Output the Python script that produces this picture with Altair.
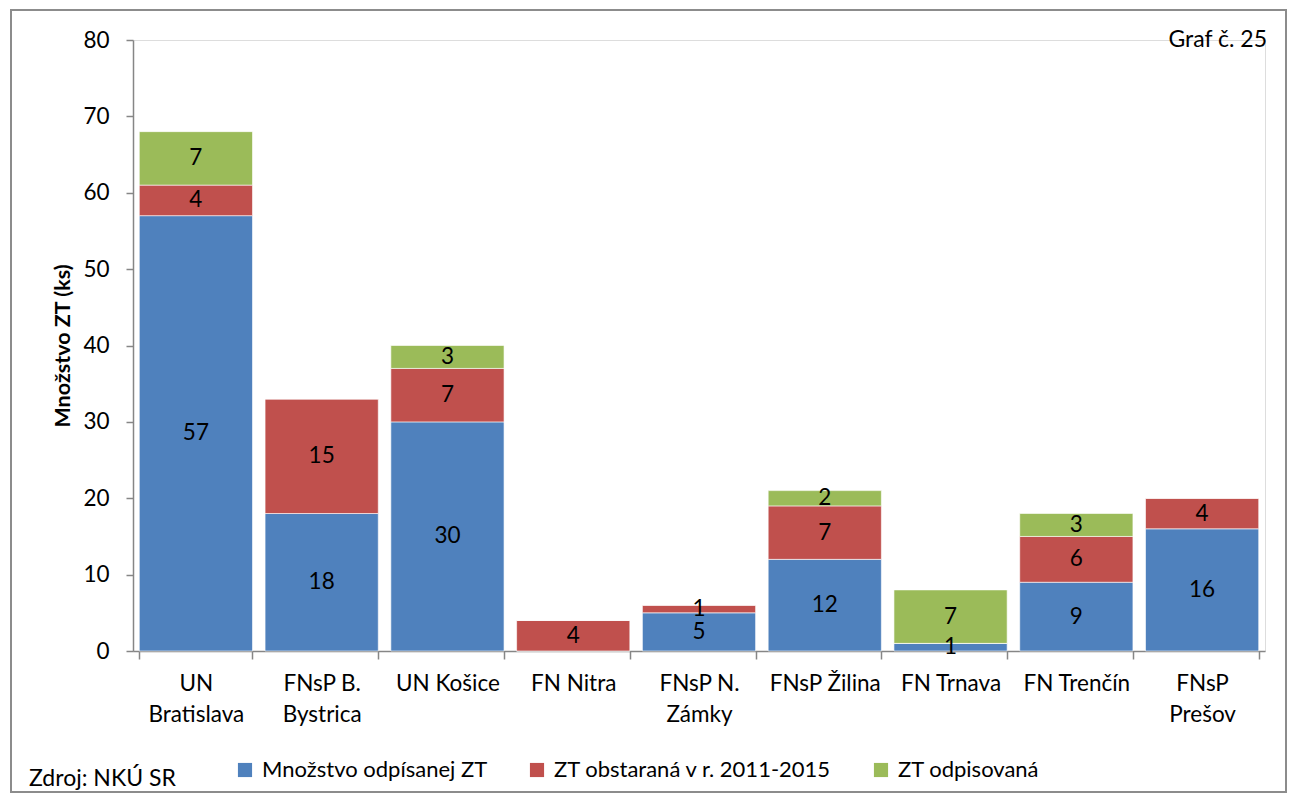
import altair as alt
import pandas as pd

categories = ["UN|Bratislava", "FNsP B.|Bystrica", "UN Košice", "FN Nitra", "FNsP N.|Zámky",
              "FNsP Žilina", "FN Trnava", "FN Trenčín", "FNsP|Prešov"]
series = ["Množstvo odpísanej ZT", "ZT obstaraná v r. 2011-2015", "ZT odpisovaná"]
odpisana = [57, 18, 30, 0, 5, 12, 1, 9, 16]
obstarana = [4, 15, 7, 4, 1, 7, 0, 6, 4]
odpisovana = [7, 0, 3, 0, 0, 2, 7, 3, 0]
colors = ["#4F81BD", "#C0504D", "#9BBB59"]
y_ticks = [0, 10, 20, 30, 40, 50, 60, 70, 80]

FONT = "Lato"
FS = 22.5

rows = []
for i, c in enumerate(categories):
    for j, (s, vals) in enumerate(zip(series, [odpisana, obstarana, odpisovana])):
        rows.append({"cat": c, "series": s, "idx": j, "value": vals[i]})
df = pd.DataFrame(rows)

W, H = 1132, 611

base = alt.Chart(df).transform_stack(
    stack="value", groupby=["cat"], as_=["v0", "v1"],
    sort=[alt.SortField("idx", order="ascending")]
).transform_calculate(mid="(datum.v0 + datum.v1) / 2")

x = alt.X("cat:N", sort=categories, title=None,
          scale=alt.Scale(paddingInner=0.1, paddingOuter=0.05),
          axis=alt.Axis(labelExpr="split(datum.label, '|')", labelAngle=0,
                        tickBand="extent", tickSize=8, tickColor="#868686",
                        domainColor="#868686", domainWidth=1.5, tickWidth=1.5,
                        labelFont=FONT, labelFontSize=FS, labelColor="#000000",
                        labelPadding=13, labelLineHeight=31, labelBaseline="top"))

y_scale = alt.Scale(domain=[0, 80], nice=False)

bars = base.mark_bar(stroke="#ffffff", strokeWidth=1, strokeOpacity=0.6).encode(
    x=x,
    y=alt.Y("v0:Q", scale=y_scale, title="Množstvo ZT (ks)",
            axis=alt.Axis(values=y_ticks, grid=False, tickSize=7, tickColor="#868686",
                          domainColor="#868686", domainWidth=1.5, tickWidth=1.5,
                          labelFont=FONT, labelFontSize=FS, labelColor="#000000",
                          labelPadding=17, titleFont=FONT, titleFontSize=21.5,
                          titleFontWeight="bold", titleColor="#000000", titlePadding=8)),
    y2="v1:Q",
    color=alt.Color("series:N", scale=alt.Scale(domain=series, range=colors),
                    legend=alt.Legend(orient="none", direction="horizontal",
                                      legendX=101, legendY=719, title=None,
                                      symbolType="square", symbolSize=200,
                                      symbolStrokeWidth=0, labelFont=FONT,
                                      labelFontSize=22, labelColor="#000000",
                                      labelLimit=0, columnPadding=38, labelOffset=6)),
)

labels = base.transform_filter("datum.value > 0").mark_text(
    font=FONT, fontSize=FS, color="#000000", baseline="middle", align="center"
).encode(
    x=alt.X("cat:N", sort=categories),
    y=alt.Y("mid:Q", scale=y_scale),
    text="value:Q",
)

one = pd.DataFrame({"a": [0]})
frame = alt.Chart(one).mark_rect(fillOpacity=0, stroke="#8c8c8c", strokeWidth=2).encode(
    x=alt.value(-122), x2=alt.value(1153), y=alt.value(-30), y2=alt.value(752)
)
graf = alt.Chart(one).mark_text(font=FONT, fontSize=23, color="#000000", align="right",
                                baseline="middle", text="Graf č. 25").encode(
    x=alt.value(1134), y=alt.value(0)
)
zdroj = alt.Chart(one).mark_text(font=FONT, fontSize=23, color="#000000", align="left",
                                 baseline="middle", text="Zdroj: NKÚ SR").encode(
    x=alt.value(-104), y=alt.value(739)
)

chart = alt.layer(frame, bars, labels, graf, zdroj).properties(
    width=W, height=H,
    autosize=alt.AutoSizeParams(type="none"),
    padding={"left": 125, "top": 32, "right": 23, "bottom": 142},
).configure_view(strokeWidth=0).configure(background="#ffffff")

chart.save("out.html", embed_options={"renderer": "svg", "actions": False})
